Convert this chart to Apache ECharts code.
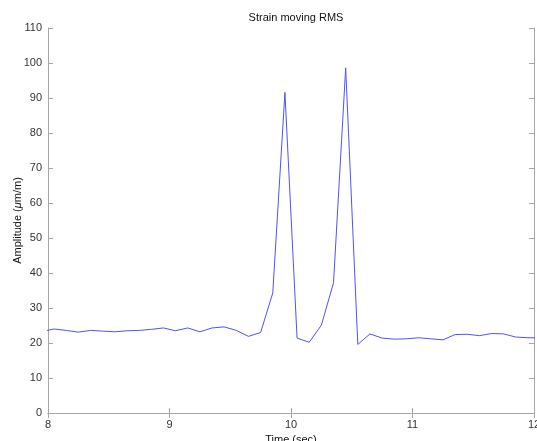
<!DOCTYPE html>
<html>
<head>
<meta charset="utf-8">
<script src="https://cdn.jsdelivr.net/npm/echarts@6/dist/echarts.min.js"></script>
<style>html,body{margin:0;padding:0;background:#fff;}#c{width:537px;height:441px;}</style>
</head>
<body>
<div id="c"></div>
<script>
var timeSec = [7.95, 8.05, 8.15, 8.25, 8.35, 8.45, 8.55, 8.65, 8.75, 8.85, 8.95,
  9.05, 9.15, 9.25, 9.35, 9.45, 9.55, 9.65, 9.75, 9.85, 9.95,
  10.05, 10.15, 10.25, 10.35, 10.45, 10.55, 10.65, 10.75, 10.85, 10.95,
  11.05, 11.15, 11.25, 11.35, 11.45, 11.55, 11.65, 11.75, 11.85, 11.95, 12.05];
var amplitude = [23.3, 24.0, 23.6, 23.1, 23.6, 23.4, 23.2, 23.5, 23.6, 23.9, 24.3,
  23.5, 24.3, 23.2, 24.3, 24.6, 23.6, 21.9, 23.0, 34.3, 91.6,
  21.4, 20.2, 25.1, 37.2, 98.6, 19.6, 22.6, 21.4, 21.1, 21.2,
  21.5, 21.2, 20.9, 22.4, 22.5, 22.1, 22.7, 22.6, 21.7, 21.5, 21.5];
var titleText = 'Strain moving RMS';
var xName = 'Time (sec)';
var yName = 'Amplitude ({i|μ}m/m)';

var pts = timeSec.map(function (t, i) { return [t, amplitude[i]]; });
var axCol = '#a6a6a6';
var txtCol = '#333';
var font = 'Liberation Sans, Arial, sans-serif';
var chart = echarts.init(document.getElementById('c'), null, {renderer: 'canvas'});
chart.setOption({
  animation: false,
  backgroundColor: '#fff',
  title: {
    text: titleText, left: 291, top: 7, textAlign: 'center',
    textStyle: {fontSize: 11, fontWeight: 'normal', color: '#111', fontFamily: font}
  },
  grid: {left: 48, right: 3, top: 28, bottom: 28, containLabel: false, outerBoundsMode: 'none'},
  xAxis: [{
    type: 'value', min: 8, max: 12, interval: 1, position: 'bottom',
    name: xName, nameLocation: 'middle', nameGap: 21, nameMoveOverlap: false,
    nameTextStyle: {fontSize: 11, color: '#111', fontFamily: font},
    axisLine: {show: true, lineStyle: {color: axCol, width: 1}},
    axisTick: {show: true, inside: true, length: 5, lineStyle: {color: axCol}},
    axisLabel: {color: txtCol, fontSize: 11, fontFamily: font, margin: 6, showMaxLabel: true, hideOverlap: false},
    splitLine: {show: false}
  }, {
    type: 'value', min: 8, max: 12, interval: 1, position: 'top',
    axisLine: {show: true, lineStyle: {color: axCol, width: 1}},
    axisTick: {show: true, inside: true, length: 5, lineStyle: {color: axCol}},
    axisLabel: {show: false},
    splitLine: {show: false}
  }],
  yAxis: [{
    type: 'value', min: 0, max: 110, interval: 10, position: 'left',
    name: yName, nameLocation: 'middle', nameGap: 25, nameRotate: 90, nameMoveOverlap: false,
    nameTextStyle: {fontSize: 11, color: '#111', fontFamily: font,
      rich: {i: {fontStyle: 'italic', fontSize: 11, color: '#111', fontFamily: font}}},
    axisLine: {show: true, lineStyle: {color: axCol, width: 1}},
    axisTick: {show: true, inside: true, length: 5, lineStyle: {color: axCol}},
    axisLabel: {color: txtCol, fontSize: 11, fontFamily: font, margin: 6},
    splitLine: {show: false}
  }, {
    type: 'value', min: 0, max: 110, interval: 10, position: 'right',
    axisLine: {show: true, lineStyle: {color: axCol, width: 1}},
    axisTick: {show: true, inside: true, length: 5, lineStyle: {color: axCol}},
    axisLabel: {show: false},
    splitLine: {show: false}
  }],
  series: [{
    type: 'line', data: pts, xAxisIndex: 0, yAxisIndex: 0,
    symbol: 'none', clip: true,
    lineStyle: {color: '#5050ff', width: 1}
  }]
});
</script>
</body>
</html>
